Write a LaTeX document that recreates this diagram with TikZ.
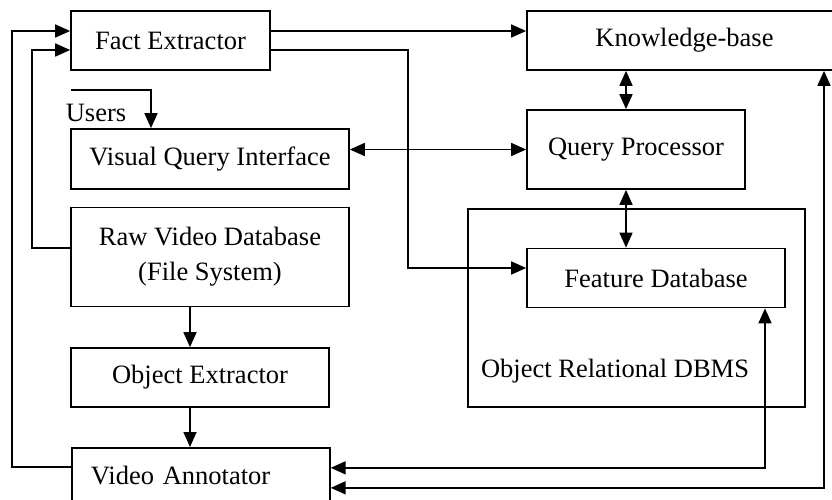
\documentclass[tikz,border=0pt]{standalone}
\usepackage{fontspec}
\setmainfont{Liberation Serif}
\usetikzlibrary{arrows.meta, positioning, calc}

\begin{document}
\begin{tikzpicture}[
  x=1pt, y=-1pt,
  box/.style={draw, line width=1.7pt, inner sep=0pt, font=\fontsize{26.5}{35}\selectfont},
  flow/.style={line width=1.7pt, -{Triangle[length=15pt, width=13pt]}},
  twoway/.style={line width=1.7pt, {Triangle[length=15pt, width=13pt]}-{Triangle[length=15pt, width=13pt]}},
]
  \useasboundingbox (0,0) rectangle (832,500);
  \clip (0,0) rectangle (832,500);

  % Left column
  \node[box, minimum width=199pt, minimum height=59pt] (fe) at (170.5,40.5) {Fact Extractor};
  \node[box, minimum width=278pt, minimum height=60pt] (vqi) at (210,159) {Visual Query Interface};
  \node[box, minimum width=278pt, minimum height=99pt, align=center] (rvd) at (210,257)
    {Raw Video Database\\(File System)};
  \node[box, minimum width=258pt, minimum height=59pt] (oe) at (200,377.5) {Object Extractor};
  \node[box, anchor=north west, minimum height=55pt, text width=220pt, inner xsep=19pt, align=left]
    (va) at (71,447) {Video Annotator};
  \node[font=\fontsize{26.5}{35}\selectfont, inner sep=0pt] (users) at (96,113) {Users};

  % Right column
  \node[box, minimum width=315pt, minimum height=59pt] (kb) at (684.5,40.5) {Knowledge-base};
  \node[box, minimum width=218pt, minimum height=79pt] (qp) at (636,149.5) {Query Processor};
  \node[box, minimum width=337pt, minimum height=198pt] (dbms) at (636.5,308) {};
  \node[box, fill=white, minimum width=258pt, minimum height=59pt] (fd) at (656,278) {Feature Database};
  \node[font=\fontsize{26.5}{35}\selectfont, inner sep=0pt] (dbmslabel) at (615,371) {Object Relational DBMS};

  % helper points for the routed lines
  \coordinate (usr) at (71,90);
  \coordinate (jog) at (408,150);
  \coordinate (inner) at (32,150);
  \coordinate (outer) at (12,150);
  \coordinate (midcol) at (626,0);
  \coordinate (leftcol) at (190,0);

  % Fact Extractor outputs
  \draw[flow] ([yshift=9.5pt]fe.east) -- ([yshift=9.5pt]fe.east -| kb.west);
  \draw[flow] ([yshift=-9.5pt]fe.east) -| (jog) |- ([yshift=10pt]fd.west);

  % Query Processor links
  \draw[twoway] (kb.south -| midcol) -- (qp.north -| midcol);
  \draw[twoway] (qp.south -| midcol) -- (fd.north -| midcol);
  \draw[twoway] (qp.west -| vqi.east) -- (qp.west);

  % Users
  \draw[flow] (usr) -| ([xshift=-59pt]vqi.north);

  % Video pipeline
  \draw[flow] (rvd.south -| leftcol) -- (oe.north -| leftcol);
  \draw[flow] (oe.south -| leftcol) -- (va.north -| leftcol);

  % Feedback into Fact Extractor
  \draw[flow] ([yshift=9pt]rvd.west) -| (inner) |- ([yshift=-9.5pt]fe.west);
  \draw[flow] ([yshift=8.5pt]va.west) -| (outer) |- ([yshift=9.5pt]fe.west);

  % Video Annotator to the stores
  \draw[twoway] ([yshift=7.5pt]va.east) -| ([xshift=109pt]fd.south);
  \draw[twoway] ([yshift=-12.5pt]va.east) -| ([xshift=139.5pt]kb.south);
\end{tikzpicture}
\end{document}
